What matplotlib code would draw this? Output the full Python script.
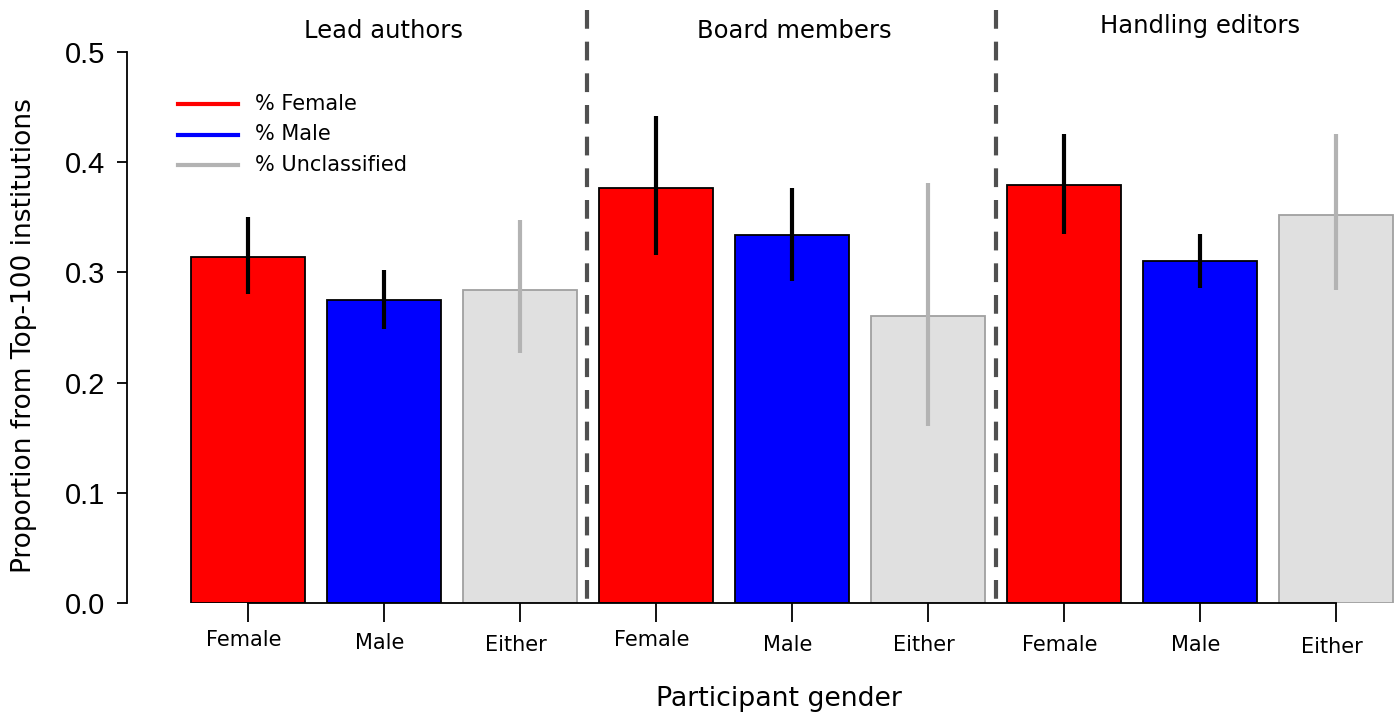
import matplotlib
matplotlib.use("Agg")
import matplotlib.pyplot as plt
from matplotlib.lines import Line2D

# data
groups = ["Lead authors", "Board members", "Handling editors"]
genders = ["Female", "Male", "Either"]
means = [0.314, 0.275, 0.284,
         0.377, 0.334, 0.260,
         0.379, 0.310, 0.352]
err_lo = [0.280, 0.249, 0.227,
          0.316, 0.292, 0.161,
          0.335, 0.286, 0.284]
err_hi = [0.350, 0.302, 0.348,
          0.442, 0.377, 0.381,
          0.426, 0.335, 0.426]
yticks = [0.0, 0.1, 0.2, 0.3, 0.4, 0.5]
legend_labels = ["% Female", "% Male", "% Unclassified"]
legend_colors = ["red", "blue", "#b3b3b3"]

fill = {"Female": "red", "Male": "blue", "Either": "#e0e0e0"}
edge = {"Female": "black", "Male": "black", "Either": "#a0a0a0"}
ecol = {"Female": "black", "Male": "black", "Either": "#b3b3b3"}

W, H = 1397, 715
fig = plt.figure(figsize=(W / 100, H / 100), dpi=100)
ax = fig.add_axes([127 / W, 1 - 603 / H, 1 - 127 / W, (603 - 52) / H])

# x positions: bar index, 136 px apart, first at 248 px
x0 = (127 - 248) / 136
x1 = (1397 - 248) / 136
ax.set_xlim(x0, x1)
ax.set_ylim(0, 0.5)

for i, m in enumerate(means):
    g = genders[i % 3]
    ax.bar(i, m, width=0.838, color=fill[g], edgecolor=edge[g], linewidth=1.3, zorder=2)
    ax.plot([i, i], [err_lo[i], err_hi[i]], color=ecol[g], lw=3, zorder=3, solid_capstyle="butt")

# x axis line between first and last tick, R style
ax.plot([0, 8], [0, 0], color="black", lw=1.3, clip_on=False, zorder=4)

# group separators, drawn top-down so the dash pattern starts at the top
for xd in [2.49, 5.5]:
    ax.plot([xd, xd], [0.538, 0], color="#505050", lw=3, ls=(0, (4.5, 3.1)),
            clip_on=False, zorder=5)

for s in ["top", "right", "bottom"]:
    ax.spines[s].set_visible(False)
ax.spines["left"].set_linewidth(1.3)
ax.set_yticks(yticks)
ax.set_yticklabels([f"{t:.1f}" for t in yticks], family="Liberation Sans", fontsize=21)
ax.tick_params(axis="y", length=7, width=1.3, pad=9)
ax.set_xticks(range(9))
ax.set_xticklabels([])
ax.tick_params(axis="x", length=13.5, width=1.3)

# tick labels under the bars, slightly staggered as in the original
offs = [0, 3, 5, 0, 5, 5, 5, 5, 7]
for i in range(9):
    ax.annotate(genders[i % 3], (i, 0), xytext=(-4 * 0.72, -(37 + offs[i]) * 0.72),
                textcoords="offset points", ha="center", va="center", fontsize=15)

tpos = [(1.0, 31), (4.02, 31), (7.0, 26)]
for (xx, yy), name in zip(tpos, groups):
    fig.text(ax.transData.transform((xx, 0))[0] / W, 1 - yy / H, name,
             ha="center", va="center", fontsize=17.5)

fig.text(24 / W, 1 - 336 / H, "Proportion from Top-100 institutions", rotation=90,
         ha="center", va="center", fontsize=19)
fig.text(779 / W, 1 - 699 / H, "Participant gender", ha="center", va="center", fontsize=19.3)

# legend drawn by hand in pixel positions
for k, (lab, col) in enumerate(zip(legend_labels, legend_colors)):
    yy = 1 - (104 + 30.5 * k) / H
    fig.add_artist(Line2D([178 / W, 238 / W], [yy, yy], color=col, lw=3,
                          transform=fig.transFigure))
    fig.text(255 / W, yy, lab, ha="left", va="center", fontsize=15)

fig.savefig("out.png", dpi=100)
